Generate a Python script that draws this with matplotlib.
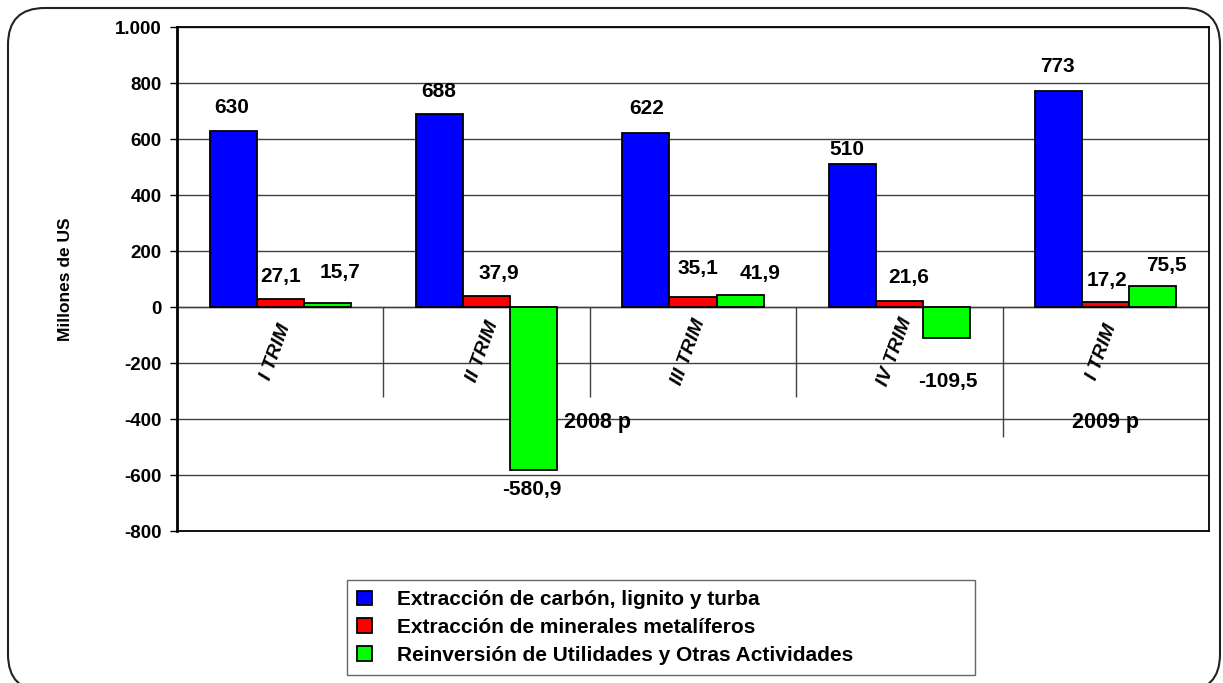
import numpy as np
import matplotlib
matplotlib.use('Agg')
import matplotlib.pyplot as plt
from matplotlib.patches import FancyBboxPatch
from matplotlib.ticker import FuncFormatter

plt.rcParams['font.family'] = ['Liberation Sans', 'DejaVu Sans']
plt.rcParams['font.weight'] = 'bold'

# datos (millones de US)
trimestres = ['I TRIM', 'II TRIM', 'III TRIM', 'IV TRIM', 'I TRIM']
carbon = [630, 688, 622, 510, 773]
metaliferos = [27.1, 37.9, 35.1, 21.6, 17.2]
otras = [15.7, -580.9, 41.9, -109.5, 75.5]
leyendas = ['Extracción de carbón, lignito y turba',
            'Extracción de minerales metalíferos',
            'Reinversión de Utilidades y Otras Actividades']
colores = ['#0000FF', '#FF0000', '#00FF00']
anios = ['2008 p', '2009 p']

# corrimientos de las etiquetas (pixeles) respecto al extremo de la barra
nudges = [
  [(-1, 23), (-1, 23), (1, 24), (-5, 15), (-1, 24)],
  [(0, 23), (12, 23), (5, 29), (9, 23), (1, 22)],
  [(13, 30), (-2, -20), (20, 22), (1, -44), (14, 20)],
]

fig = plt.figure(figsize=(12.23, 6.83), dpi=100)
ax = fig.add_axes([177/1223, 1-531/683, (1209-177)/1223, (531-27)/683])

x = np.arange(len(trimestres))
ancho = 0.228
series = [carbon, metaliferos, otras]
for k, vals in enumerate(series):
  pos = x + (k-1)*ancho
  ax.bar(pos, vals, width=ancho, color=colores[k], edgecolor='black',
         linewidth=1.3, label=leyendas[k], zorder=3)
  for i, v in enumerate(vals):
    txt = '{:.0f}'.format(v) if k == 0 else '{:.1f}'.format(v).replace('.', ',')
    dx, dy = nudges[k][i]
    ax.annotate(txt, (pos[i], v), xytext=(dx, dy), textcoords='offset pixels',
                ha='center', va='center', fontsize=15, fontweight='bold', zorder=5)

ax.set_xlim(-0.5, 4.5)
ax.set_ylim(-800, 1000)
ax.set_yticks(np.arange(-800, 1001, 200))
ax.yaxis.set_major_formatter(FuncFormatter(lambda v, p: '{:,.0f}'.format(v).replace(',', '.')))
ax.tick_params(axis='y', direction='out', length=5, width=1, labelsize=13.5, pad=6)
ax.tick_params(axis='x', length=0, labelbottom=False)
for lab in ax.get_yticklabels():
  lab.set_fontweight('bold')
ax.grid(axis='y', color='#404040', linewidth=1, zorder=0)
ax.axhline(0, color='#404040', linewidth=1, zorder=2)
for s in ['top', 'right', 'bottom']:
  ax.spines[s].set_linewidth(1.3)
ax.spines['left'].set_linewidth(2)

# separadores del eje de categorias
ax.vlines([0.5, 1.5, 2.5], -321, 0, color='#404040', linewidth=1, zorder=2)
ax.vlines([3.5], -464, 0, color='#404040', linewidth=1, zorder=2)

for i, t in enumerate(trimestres):
  ax.text(i - 0.02, -160, t, rotation=70, ha='center', va='center',
          fontsize=14, fontweight='bold', fontstyle='italic', zorder=5)
ax.text(1.535, -414, anios[0], ha='center', va='center', fontsize=15.5, fontweight='bold', zorder=5)
ax.text(4.0, -414, anios[1], ha='center', va='center', fontsize=15.5, fontweight='bold', zorder=5)

ax.set_ylabel('Millones de US', fontsize=12.5, fontweight='bold')
ax.yaxis.set_label_coords(-104/1032, 0.5)

leg = fig.legend(loc='lower left', bbox_to_anchor=(347/1223, 8/683, 628/1223, 95/683),
                 mode='expand', ncol=1, frameon=True, fancybox=False, borderaxespad=0,
                 edgecolor='#404040', borderpad=0.5, labelspacing=0.42,
                 handlelength=0.7, handleheight=0.7, handletextpad=1.2,
                 prop={'size': 15, 'weight': 'bold'})
leg.get_frame().set_linewidth(1)

# marco redondeado exterior
marco = FancyBboxPatch((8/1223, -8/683), 1212/1223, 683/683,
                       boxstyle='round,pad=0,rounding_size=0.03',
                       transform=fig.transFigure, facecolor='none',
                       edgecolor='#222222', linewidth=1.5, mutation_aspect=1223/683)
fig.patches.append(marco)

fig.savefig('out.png', dpi=100)
